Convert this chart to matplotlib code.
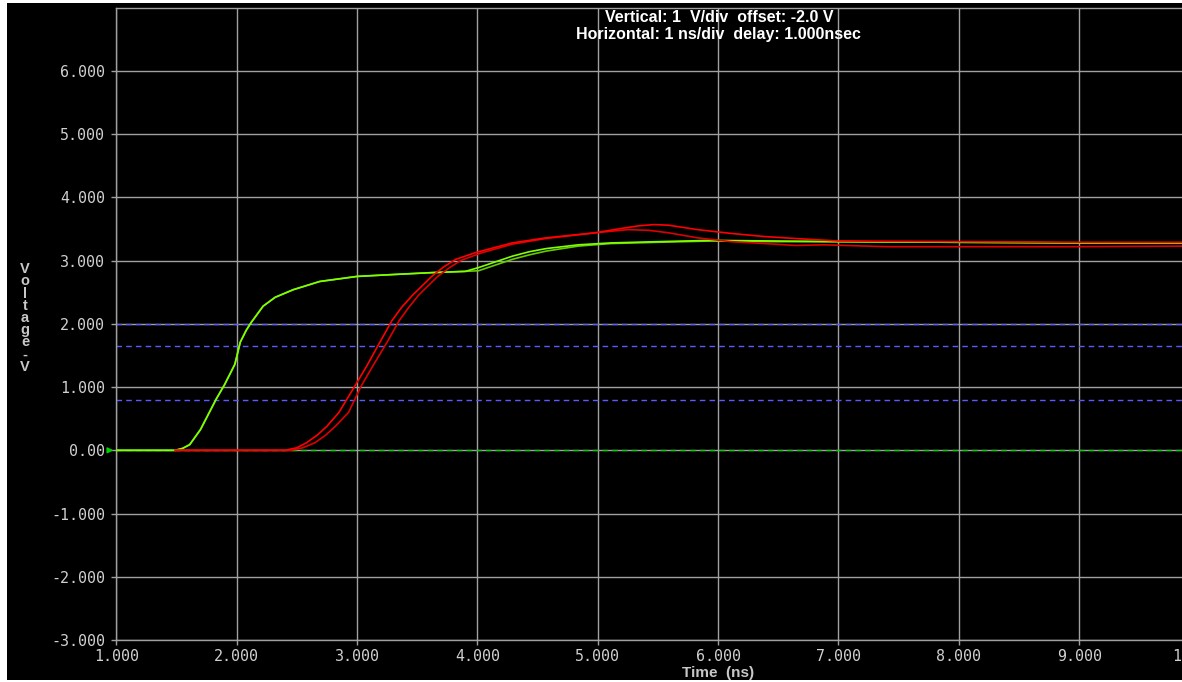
import matplotlib
matplotlib.use("Agg")
import matplotlib.pyplot as plt
from matplotlib.patches import Rectangle

# green traces (two overlapping acquisitions)
green_t = [1.0, 1.49, 1.55, 1.61, 1.70, 1.83, 1.90, 1.985, 2.03, 2.08, 2.12, 2.22, 2.32, 2.47, 2.69,
           3.0, 3.3, 3.62, 3.9, 4.01, 4.15, 4.29, 4.43, 4.57, 4.84, 5.11, 5.5, 5.94, 6.5,
           7.0, 8.0, 9.0, 10.0]
green_a = [0, 0, 0.03, 0.09, 0.33, 0.81, 1.04, 1.36, 1.71, 1.90, 2.02, 2.28, 2.42, 2.54, 2.67,
           2.75, 2.78, 2.81, 2.83, 2.89, 2.98, 3.07, 3.14, 3.19, 3.25, 3.28, 3.30, 3.32, 3.31,
           3.30, 3.29, 3.28, 3.28]
green_b = [0, 0, 0.03, 0.09, 0.33, 0.81, 1.04, 1.36, 1.71, 1.90, 2.02, 2.28, 2.42, 2.54, 2.67,
           2.75, 2.78, 2.81, 2.83, 2.84, 2.93, 3.02, 3.09, 3.15, 3.23, 3.27, 3.29, 3.31, 3.30,
           3.30, 3.29, 3.28, 3.28]

# red traces
red_a_t = [1.49, 2.40, 2.50, 2.58, 2.67, 2.75, 2.85, 2.98, 3.08, 3.19, 3.29, 3.37, 3.46, 3.62,
           3.72, 3.82, 3.99, 4.29, 4.57, 4.98, 5.20, 5.34, 5.47, 5.59, 5.83, 6.11, 6.39,
           6.64, 7.0, 8.0, 9.0, 10.0]
red_a = [0, 0, 0.04, 0.12, 0.24, 0.38, 0.60, 1.01, 1.33, 1.71, 2.05, 2.26, 2.45, 2.75,
         2.90, 3.02, 3.13, 3.28, 3.36, 3.44, 3.51, 3.55, 3.57, 3.56, 3.49, 3.43, 3.38,
         3.35, 3.31, 3.30, 3.29, 3.29]
red_b_t = [1.49, 2.45, 2.55, 2.65, 2.74, 2.82, 2.93, 3.03, 3.13, 3.25, 3.35, 3.43, 3.51, 3.67,
           3.77, 3.86, 4.03, 4.29, 4.57, 4.98, 5.25, 5.42, 5.59, 5.83, 6.11, 6.39, 6.64,
           6.88, 7.41, 8.87, 10.0]
red_b = [0, 0, 0.04, 0.12, 0.24, 0.38, 0.60, 1.0, 1.33, 1.71, 2.05, 2.26, 2.45, 2.75,
         2.89, 3.0, 3.12, 3.26, 3.35, 3.44, 3.49, 3.48, 3.44, 3.36, 3.30, 3.27, 3.24,
         3.25, 3.22, 3.22, 3.23]

# threshold markers
thresholds = [2.0, 1.65, 0.8]

x_ticks = [1, 2, 3, 4, 5, 6, 7, 8, 9, 10]
x_labels = ["1.000", "2.000", "3.000", "4.000", "5.000", "6.000", "7.000", "8.000", "9.000", "10.000"]
y_ticks = [-3, -2, -1, 0, 1, 2, 3, 4, 5, 6]
y_labels = ["-3.000", "-2.000", "-1.000", "0.00", "1.000", "2.000", "3.000", "4.000", "5.000", "6.000"]

W, H = 1182, 682
fig = plt.figure(figsize=(W / 100, H / 100), dpi=100)
fig.patch.set_facecolor("white")
fig.patches.append(Rectangle((7 / W, 2 / H), 1, 1 - 5 / H, transform=fig.transFigure,
                             facecolor="black", edgecolor="none", zorder=-10))

grid_c = "#a0a0a0"
ax = fig.add_axes([116.3 / W, 1 - 640 / H, (1199.5 - 116.3) / W, (640 - 7.7) / H])
ax.set_facecolor("black")
ax.set_xlim(1, 10)
ax.set_ylim(-3, 7)
for s in ax.spines.values():
    s.set_color(grid_c)
    s.set_linewidth(1.0)

ax.set_xticks(x_ticks, x_labels)
ax.set_yticks(y_ticks, y_labels)
ax.tick_params(colors=grid_c, length=3.6, width=1.0)
ax.tick_params(axis="x", pad=3.2)
ax.tick_params(axis="y", pad=4.5)
for lab in ax.get_xticklabels() + ax.get_yticklabels():
    lab.set_family("DejaVu Sans Mono")
    lab.set_fontsize(10.8)
    lab.set_color("#d0d0d0")
ax.grid(True, color=grid_c, linewidth=1.0)
ax.set_axisbelow(True)

# reference lines
ax.axhline(0, color="#00d000", linewidth=1.0, linestyle=(0, (4, 3)), zorder=2)
for th in thresholds:
    ax.axhline(th, color="#5a5aff", linewidth=1.0, linestyle=(0, (4, 3)), zorder=2)

ax.plot(green_t, green_b, color="#66cc00", linewidth=1.2, zorder=3)
ax.plot(green_t, green_a, color="#80ff00", linewidth=1.2, zorder=3)
ax.plot(red_b_t, red_b, color="#dd0000", linewidth=1.2, zorder=4)
ax.plot(red_a_t, red_a, color="#ff0000", linewidth=1.2, zorder=4)

# ground marker arrow
ax.annotate("", xy=(0, 0), xycoords=("axes fraction", "data"),
            xytext=(-8, 0), textcoords="offset points",
            arrowprops=dict(arrowstyle="-|>", color="#00d000", lw=1.2, mutation_scale=8),
            annotation_clip=False)

fig.text(719 / W, 1 - 17 / H, "Vertical: 1  V/div  offset: -2.0 V", color="white",
         fontsize=11.5, fontweight="bold", family="Liberation Sans", ha="center", va="center")
fig.text(718 / W, 1 - 35 / H, "Horizontal: 1 ns/div  delay: 1.000nsec", color="white",
         fontsize=11.5, fontweight="bold", family="Liberation Sans", ha="center", va="center")
fig.text(718 / W, 1 - 673 / H, "Time  (ns)", color="#c8c8c8",
         fontsize=11, fontweight="bold", family="Liberation Sans", ha="center", va="center")
fig.text(25 / W, 1 - 318 / H, "\n".join("Voltage-V"), color="#c8c8c8", linespacing=0.84,
         fontsize=10.5, fontweight="bold", family="Liberation Sans", ha="center", va="center")

fig.savefig("out.png", dpi=100, facecolor=fig.get_facecolor())
